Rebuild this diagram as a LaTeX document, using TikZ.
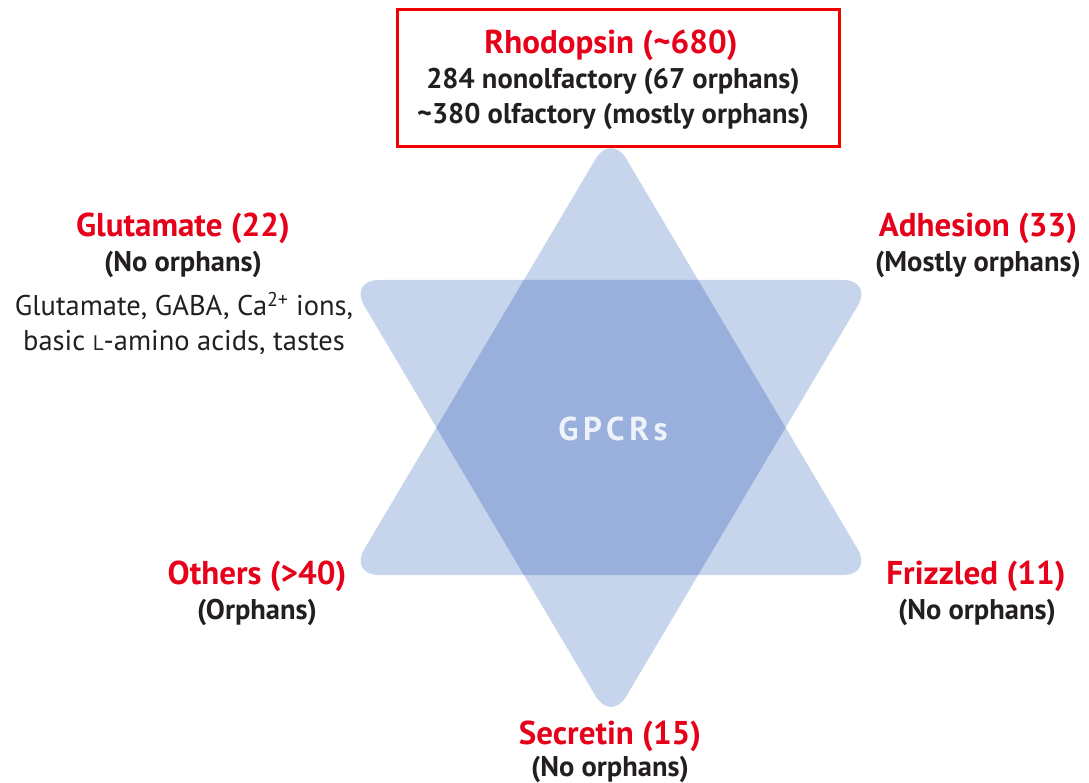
\documentclass[tikz,border=0pt]{standalone}
\usepackage{fontspec}
\setmainfont{PT Sans}
\definecolor{lightstar}{RGB}{198,212,236}
\definecolor{darkstar}{RGB}{153,176,220}
\definecolor{titlered}{RGB}{230,0,25}
\definecolor{boxred}{RGB}{240,0,0}
\definecolor{txt}{RGB}{35,31,32}
\definecolor{gpcrtxt}{RGB}{238,242,250}
\tikzset{
  title/.style={font=\bfseries\fontsize{33}{36}\selectfont, text=titlered, anchor=base, inner sep=0pt},
  sub/.style={font=\bfseries\fontsize{28.5}{32}\selectfont, text=txt, anchor=base, inner sep=0pt},
  plain/.style={font=\fontsize{28.5}{32}\selectfont, text=txt, anchor=base, inner sep=0pt},
  tri/.style={rounded corners=30pt}
}
\begin{document}
\begin{tikzpicture}[x=1pt,y=-1pt]
\useasboundingbox (0,0) rectangle (1089,783);
% star
\fill[lightstar, tri] (611,133) -- (873,575) -- (349,575) -- cycle;
\fill[lightstar, tri] (349,280) -- (873,280) -- (611,722) -- cycle;
\begin{scope}
  \clip[tri] (611,133) -- (873,575) -- (349,575) -- cycle;
  \fill[darkstar, tri] (349,280) -- (873,280) -- (611,722) -- cycle;
\end{scope}
\node[anchor=base, inner sep=0pt, text=gpcrtxt, font=\bfseries\fontsize{33}{36}\selectfont\addfontfeature{LetterSpace=14}] (gpcr) at (613,440) {GPCRs};
% Rhodopsin box
\draw[boxred, line width=3pt] (397,10) rectangle (839,147);
\node[title] (rho) at (611,54) {Rhodopsin (\textasciitilde680)};
\node[sub] (rho2) at (613,89) {284 nonolfactory (67 orphans)};
\node[sub] (rho3) at (613,124) {\textasciitilde380 olfactory (mostly orphans)};
% Glutamate
\node[title] (glu) at (183,237) {Glutamate (22)};
\node[sub] (glu2) at (183,272) {(No orphans)};
\node[plain] (glu3) at (184,316) {Glutamate, GABA, Ca\textsuperscript{2+} ions,};
\node[plain] (glu4) at (184,350) {basic {\fontsize{21}{22}\selectfont L}-amino acids, tastes};
% Adhesion
\node[title] (adh) at (978,237) {Adhesion (33)};
\node[sub] (adh2) at (978,272) {(Mostly orphans)};
% Others
\node[title] (oth) at (257,584) {Others (>40)};
\node[sub] (oth2) at (257,619) {(Orphans)};
% Frizzled
\node[title] (fri) at (976,584) {Frizzled (11)};
\node[sub] (fri2) at (977,619) {(No orphans)};
% Secretin
\node[title] (sec) at (610,744) {Secretin (15)};
\node[sub] (sec2) at (610,776) {(No orphans)};
\end{tikzpicture}
\end{document}
